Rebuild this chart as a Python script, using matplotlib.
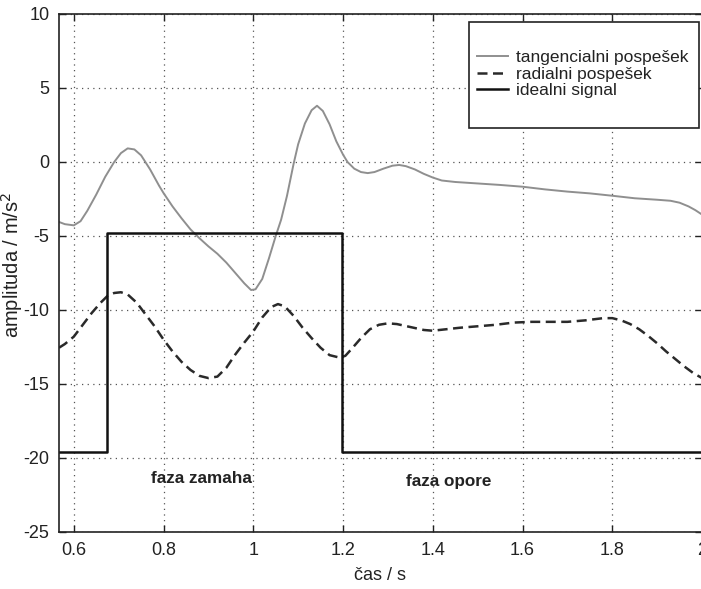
import matplotlib
matplotlib.use("Agg")
import matplotlib.pyplot as plt
from matplotlib.patches import Rectangle

plt.rcParams['font.family'] = ['Liberation Sans', 'DejaVu Sans']
plt.rcParams['axes.unicode_minus'] = False

# tangencialni pospesek
t_tan = [0.567, 0.58, 0.60, 0.615, 0.63, 0.65, 0.67, 0.69, 0.705, 0.72, 0.735, 0.75,
         0.77, 0.79, 0.80, 0.82, 0.84, 0.86, 0.88, 0.90, 0.92, 0.94, 0.96, 0.98, 0.995,
         1.005, 1.02, 1.035, 1.05, 1.062, 1.075, 1.09, 1.10, 1.115, 1.13, 1.142, 1.155,
         1.17, 1.185, 1.20, 1.21, 1.225, 1.24, 1.255, 1.27, 1.29, 1.31, 1.325, 1.34,
         1.36, 1.38, 1.40, 1.42, 1.45, 1.50, 1.55, 1.60, 1.65, 1.70, 1.75, 1.80, 1.85,
         1.90, 1.93, 1.95, 1.97, 1.985, 2.0]
a_tan = [-4.05, -4.2, -4.28, -4.0, -3.3, -2.2, -1.0, 0.0, 0.6, 0.92, 0.85, 0.45,
         -0.5, -1.6, -2.1, -3.0, -3.8, -4.55, -5.15, -5.7, -6.2, -6.8, -7.5, -8.2, -8.65,
         -8.6, -7.9, -6.5, -5.0, -3.9, -2.3, -0.1, 1.2, 2.6, 3.5, 3.8, 3.45,
         2.55, 1.4, 0.5, 0.0, -0.45, -0.68, -0.75, -0.68, -0.45, -0.25, -0.2, -0.28,
         -0.5, -0.8, -1.05, -1.25, -1.35, -1.45, -1.55, -1.67, -1.85, -2.0, -2.12, -2.28, -2.45,
         -2.55, -2.62, -2.75, -3.0, -3.25, -3.55]

# radialni pospesek
t_rad = [0.567, 0.58, 0.60, 0.62, 0.64, 0.66, 0.675, 0.69, 0.705, 0.72, 0.74, 0.76,
         0.78, 0.80, 0.82, 0.84, 0.86, 0.88, 0.90, 0.92, 0.94, 0.96, 0.98, 1.00, 1.02,
         1.04, 1.055, 1.07, 1.09, 1.11, 1.13, 1.15, 1.17, 1.19, 1.205, 1.22, 1.24, 1.26,
         1.28, 1.30, 1.32, 1.35, 1.38, 1.40, 1.43, 1.46, 1.50, 1.54, 1.58, 1.62, 1.66,
         1.70, 1.74, 1.78, 1.80, 1.82, 1.84, 1.86, 1.88, 1.90, 1.92, 1.94, 1.96, 1.98, 2.00]
a_rad = [-12.55, -12.3, -11.8, -11.0, -10.2, -9.5, -9.05, -8.85, -8.8, -8.95, -9.5, -10.3,
         -11.1, -12.0, -12.8, -13.5, -14.05, -14.45, -14.6, -14.5, -13.9, -13.0, -12.2, -11.45, -10.5,
         -9.8, -9.6, -9.75, -10.4, -11.2, -11.9, -12.55, -13.05, -13.2, -13.1, -12.6, -11.9, -11.3,
         -11.0, -10.9, -10.95, -11.15, -11.35, -11.4, -11.3, -11.2, -11.1, -11.0, -10.85, -10.8, -10.8,
         -10.8, -10.7, -10.55, -10.55, -10.7, -10.95, -11.3, -11.75, -12.25, -12.8, -13.3, -13.8, -14.25, -14.6]

# idealni signal (step edges and levels)
t_ideal = [0.567, 0.673, 1.198, 2.0]
a_ideal = [-19.6, -4.8, -19.6, -19.6]

x_ticks = [0.6, 0.8, 1.0, 1.2, 1.4, 1.6, 1.8, 2.0]
x_ticklabels = ['0.6', '0.8', '1', '1.2', '1.4', '1.6', '1.8', '2']
y_ticks = [-25, -20, -15, -10, -5, 0, 5, 10]

fig = plt.figure(figsize=(7.01, 5.89), dpi=100)
ax = fig.add_axes([59/701, 57/589, 643/701, 518/589])

ax.plot(t_tan, a_tan, color='#8f8f8f', lw=1.4, label='tangencialni pospešek')
ax.plot(t_rad, a_rad, color='#2a2a2a', lw=1.8, ls=(0, (4, 2.2)), label='radialni pospešek')
ax.plot(t_ideal, a_ideal, color='#111111', lw=1.8, drawstyle='steps-post', label='idealni signal')

ax.set_xlim(0.567, 2.0)
ax.set_ylim(-25, 10)
ax.set_xticks(x_ticks)
ax.set_xticklabels(x_ticklabels)
ax.set_yticks(y_ticks)
ax.tick_params(direction='in', length=5, width=1.0, top=True, right=True,
               labelsize=13, pad=7, colors='#222222')
for s in ax.spines.values():
    s.set_linewidth(1.2)
    s.set_color('#222222')
ax.grid(True, color='#555555', lw=0.9, ls=(0, (1, 3.5)))

ax.set_xlabel('čas / s', fontsize=13, color='#222222', labelpad=6)
ax.set_ylabel('amplituda / m/s$^2$', fontsize=14.5, color='#222222')
ax.yaxis.set_label_coords((25 - 59) / 643, (532 - 265) / 518)

ax.text(0.885, -21.4, 'faza zamaha', fontsize=12.3, fontweight='bold', ha='center', va='center', color='#222222')
ax.text(1.436, -21.6, 'faza opore', fontsize=12.3, fontweight='bold', ha='center', va='center', color='#222222')

# legend frame
x0 = (469 - 59) / 643
x1 = (699 - 59) / 643
y1 = (532 - 22) / 518
y0 = (532 - 128) / 518
ax.add_patch(Rectangle((x0, y0), x1 - x0, y1 - y0, transform=ax.transAxes,
                       facecolor='white', edgecolor='#222222', lw=1.2, zorder=5))
leg = ax.legend(loc='upper left', bbox_to_anchor=((477 - 59) / 643, (532 - 50) / 518),
                frameon=False, fontsize=12.5, borderpad=0, borderaxespad=0,
                handlelength=1.8, handletextpad=0.45, labelspacing=0.08)
leg.set_zorder(6)
for txt in leg.get_texts():
    txt.set_color('#222222')

fig.savefig('out.png', dpi=100)
